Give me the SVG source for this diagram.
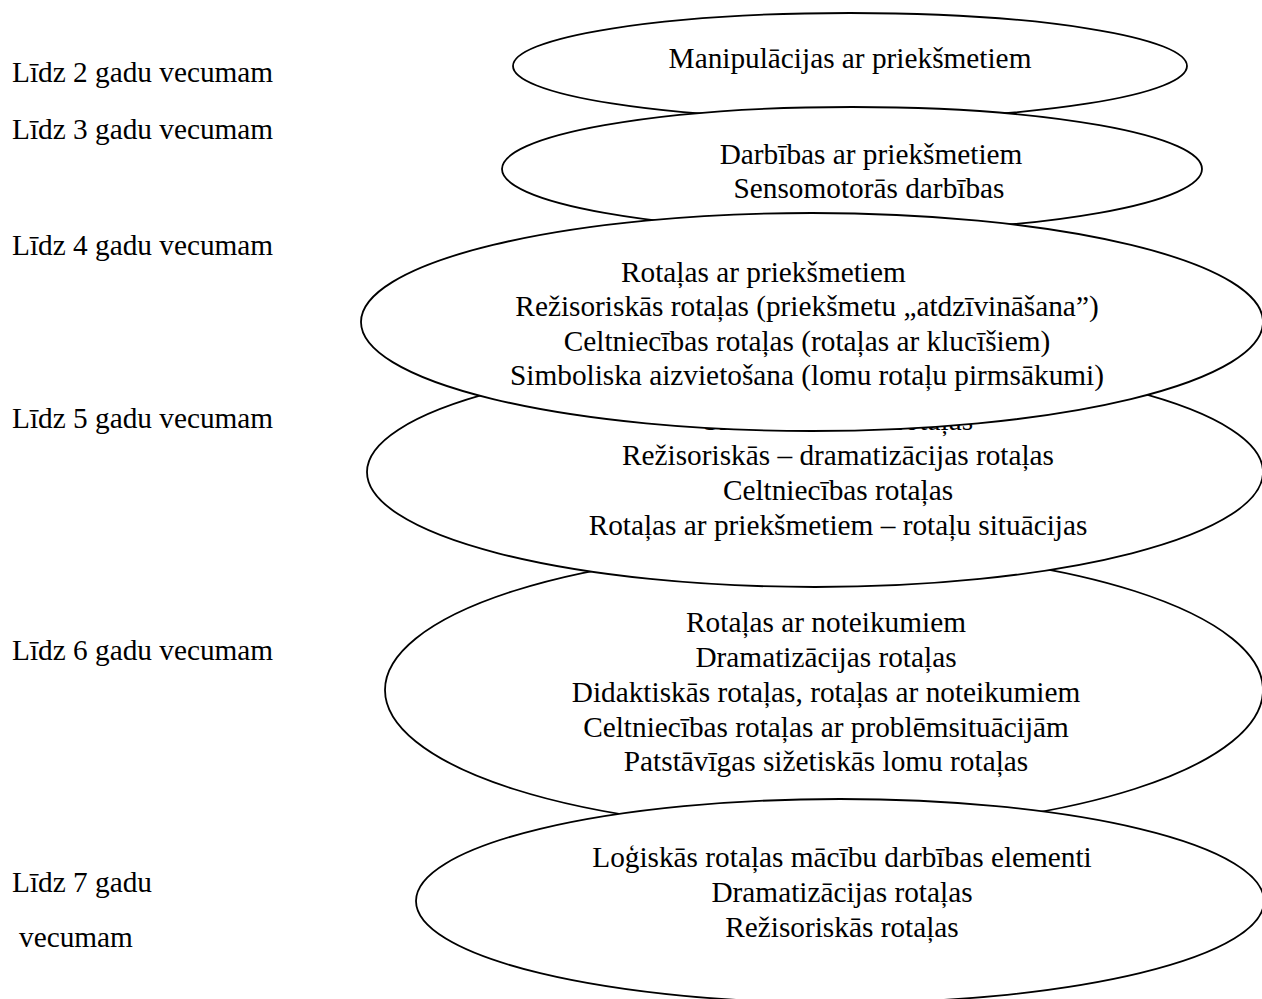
<svg xmlns="http://www.w3.org/2000/svg" width="1262" height="999" viewBox="0 0 1262 999">
<style>
text{font-family:"Liberation Serif","Times New Roman",serif;font-size:29.3px;fill:#000}
.c{text-anchor:middle}
.e{fill:#fff;stroke:#000;stroke-width:1.8}
</style>
<rect x="0" y="0" width="1262" height="999" fill="#fff"/>
<g id="labels">
<text x="12" y="82">Līdz 2 gadu vecumam</text>
<text x="12" y="139">Līdz 3 gadu vecumam</text>
<text x="12" y="255">Līdz 4 gadu vecumam</text>
<text x="12" y="428">Līdz 5 gadu vecumam</text>
<text x="12" y="660">Līdz 6 gadu vecumam</text>
<text x="12" y="892">Līdz 7 gadu</text>
<text x="19" y="947">vecumam</text>
</g>
<g id="node1">
<ellipse class="e" cx="850" cy="66" rx="337" ry="53"/>
<text class="c" x="850" y="68">Manipulācijas ar priekšmetiem</text>
</g>
<g id="node2">
<ellipse class="e" cx="852" cy="169" rx="350" ry="62"/>
<text class="c" x="871" y="164">Darbības ar priekšmetiem</text>
<text class="c" x="869" y="198">Sensomotorās darbības</text>
</g>
<g id="node5">
<ellipse class="e" cx="824" cy="690" rx="439" ry="140"/>
<text class="c" x="826" y="632">Rotaļas ar noteikumiem</text>
<text class="c" x="826" y="667">Dramatizācijas rotaļas</text>
<text class="c" x="826" y="702">Didaktiskās rotaļas, rotaļas ar noteikumiem</text>
<text class="c" x="826" y="737">Celtniecības rotaļas ar problēmsituācijām</text>
<text class="c" x="826" y="771">Patstāvīgas sižetiskās lomu rotaļas</text>
</g>
<g id="node4">
<ellipse class="e" cx="815" cy="472" rx="448" ry="115"/>
<text class="c" x="838" y="430">Sižetiskās lomu rotaļas</text>
<text class="c" x="838" y="465">Režisoriskās – dramatizācijas rotaļas</text>
<text class="c" x="838" y="500">Celtniecības rotaļas</text>
<text class="c" x="838" y="535">Rotaļas ar priekšmetiem – rotaļu situācijas</text>
</g>
<g id="node3">
<ellipse class="e" cx="812" cy="322" rx="451" ry="109"/>
<text x="621" y="282">Rotaļas ar priekšmetiem</text>
<text class="c" x="807" y="316">Režisoriskās rotaļas (priekšmetu „atdzīvināšana”)</text>
<text class="c" x="807" y="351">Celtniecības rotaļas (rotaļas ar klucīšiem)</text>
<text class="c" x="807" y="385">Simboliska aizvietošana (lomu rotaļu pirmsākumi)</text>
</g>
<g id="node6">
<ellipse class="e" cx="840" cy="901" rx="424" ry="102"/>
<text class="c" x="842" y="867">Loģiskās rotaļas mācību darbības elementi</text>
<text class="c" x="842" y="902">Dramatizācijas rotaļas</text>
<text class="c" x="842" y="937">Režisoriskās rotaļas</text>
</g>
</svg>
